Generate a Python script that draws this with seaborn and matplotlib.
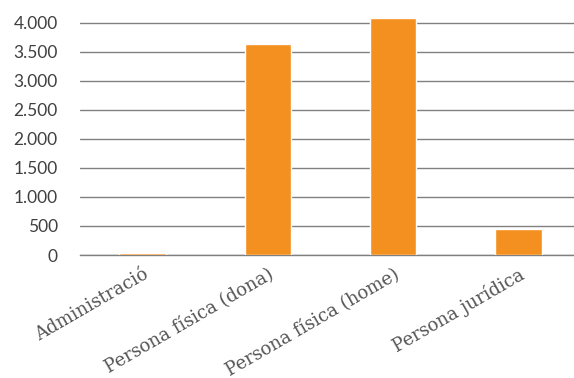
import matplotlib
matplotlib.use("Agg")
import matplotlib.pyplot as plt
import seaborn as sns
import pandas as pd
from matplotlib.ticker import FuncFormatter, MultipleLocator

categories = ["Administració", "Persona física (dona)", "Persona física (home)", "Persona jurídica"]
values = [30, 3630, 4075, 445]

df = pd.DataFrame({"cat": categories, "val": values})

sns.set_theme(style="white")
plt.rcParams['font.family'] = ['Lato', 'DejaVu Sans']

fig = plt.figure(figsize=(5.74, 3.78), dpi=100)
ax = fig.add_axes([80/574, 1-255/378, (581-80)/574, 238.3/378])

sns.barplot(data=df, x="cat", y="val", color="#F4901F", saturation=1, width=0.37, ax=ax, zorder=3)

ax.set_ylim(0, 4100)
ax.set_xlim(-0.5, 3.5)
ax.yaxis.set_major_locator(MultipleLocator(500))
ax.yaxis.set_major_formatter(FuncFormatter(lambda v, p: f"{int(v):,}".replace(",", ".")))
ax.grid(axis="y", color="#808080", linewidth=1, zorder=0)
ax.set_axisbelow(True)
for s in ["top", "right", "left"]:
    ax.spines[s].set_visible(False)
ax.spines["bottom"].set_color("#808080")
ax.spines["bottom"].set_linewidth(1)
ax.set_xlabel("")
ax.set_ylabel("")
ax.tick_params(axis="y", length=0, pad=16, labelsize=12.5, labelcolor="#404040")
ax.tick_params(axis="x", length=0, pad=7, labelsize=13, labelcolor="#555555")
for lbl in ax.get_xticklabels():
    lbl.set_rotation(30)
    lbl.set_ha("right")
    lbl.set_rotation_mode("anchor")
    lbl.set_family(["DejaVu Serif"])
    lbl.set_fontweight("light")

fig.savefig("out.png", dpi=100)
